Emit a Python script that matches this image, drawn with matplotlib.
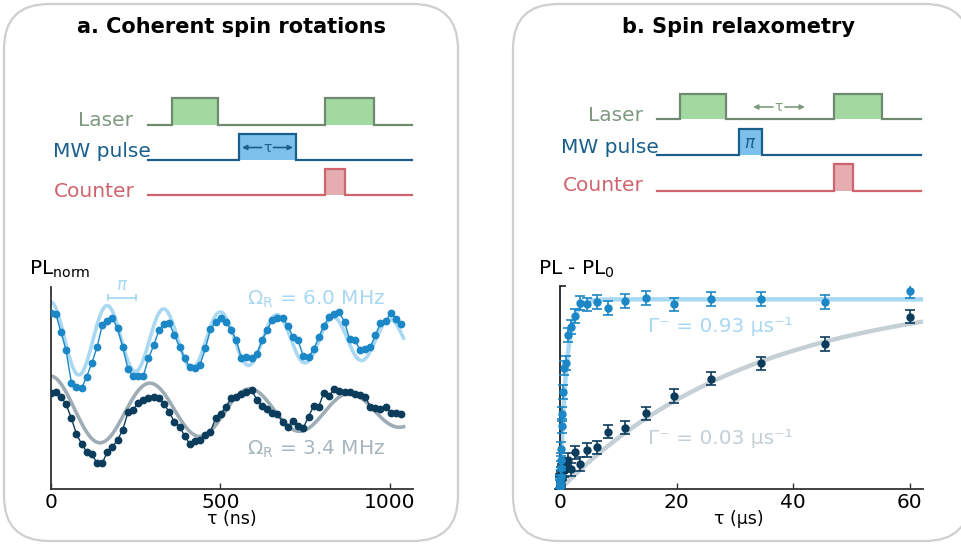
import numpy as np
import matplotlib

matplotlib.use("Agg")
import matplotlib.pyplot as plt  # noqa: E402
from matplotlib.patches import FancyBboxPatch  # noqa: E402

# --- a. Rabi oscillations: PL vs MW pulse length (ns) ---
rabi_tau = [0, 15, 30, 45, 61, 76, 91, 106, 121, 137, 152, 167, 182, 197, 212,
            228, 243, 258, 273, 288, 304, 319, 334, 349, 364, 380, 395, 410, 425,
            440, 456, 471, 486, 501, 516, 532, 547, 562, 577, 592, 608, 623, 638,
            653, 668, 684, 699, 714, 729, 744, 760, 775, 790, 805, 820, 836, 851,
            866, 881, 896, 912, 927, 942, 957, 972, 988, 1003, 1018, 1033]
rabi_fast = [86.8, 86.5, 77.8, 68.8, 52.6, 50.3, 49.8, 55.6, 62.2, 70.4,
             81.1, 83.2, 84.4, 79.4, 70.4, 59.2, 55.9, 55.9, 55.9, 64.6,
             71.2, 78.6, 81.6, 82.2, 76.2, 70.4, 64.6, 60.2, 59.7, 61.3,
             69.6, 78.9, 82.7, 84.7, 82.7, 78.6, 73.7, 64.6, 65.1, 64.6,
             66.8, 73.7, 78.6, 83.6, 84.4, 84.7, 80.6, 75.3, 73.7, 65.8,
             65.1, 69.1, 75.0, 80.6, 84.9, 86.5, 87.3, 82.7, 74.0, 73.7,
             68.8, 69.1, 70.1, 76.2, 81.9, 83.1, 87.2, 83.9, 81.6]
rabi_slow = [47.4, 48.2, 45.7, 42.1, 35.0, 27.3, 22.4, 18.6, 17.4, 12.8,
             12.8, 18.6, 21.1, 24.3, 29.3, 38.0, 39.1, 42.8, 44.1, 44.9,
             45.7, 44.9, 42.1, 38.3, 33.4, 30.9, 26.3, 22.4, 24.0, 24.3,
             26.6, 28.5, 35.0, 37.2, 40.8, 44.9, 45.7, 47.0, 48.2, 49.0,
             44.1, 41.3, 39.5, 37.5, 37.0, 33.4, 30.9, 33.9, 31.4, 30.1,
             35.9, 41.1, 40.8, 47.7, 46.2, 49.3, 48.7, 48.2, 47.9, 47.0,
             46.5, 45.7, 40.8, 40.1, 39.5, 40.5, 37.8, 37.5, 37.2]
omega_fast, omega_slow = 6.0, 3.4           # MHz
fit_fast = dict(offset=74.0, amp=18.5, t_decay=1600.0)
fit_slow = dict(offset=38.5, amp=17.4, t_decay=1300.0)

# --- b. T1 relaxometry: PL - PL0 vs dark time (us) ---
relax_tau = [0.042, 0.056, 0.075, 0.10, 0.13, 0.18, 0.24, 0.32, 0.42, 0.56,
             0.75, 1.0, 1.4, 1.9, 2.6, 3.4, 4.7, 6.3, 8.3, 11.1, 14.7, 19.5,
             25.9, 34.5, 45.4, 60.0]
relax_fast = [1.0, 2.1, 3.8, 6.2, 10.3, 14.4, 19.6, 31.1, 36.8, 47.9,
              59.4, 61.9, 75.8, 79.9, 85.3, 91.3, 90.8, 91.8, 89.2, 92.5,
              94.1, 90.8, 93.3, 93.3, 91.8, 97.4]
relax_slow = [2.5, 4.0, 3.0, 5.5, 4.5, 7.5, 6.0, 9.0, 7.9, 11.1,
              9.5, 11.9, 14.4, 9.8, 18.2, 12.4, 19.3, 20.6, 28.3, 30.3,
              37.3, 45.8, 54.3, 61.9, 71.3, 84.8]
relax_fast_err = [3.4] * len(relax_tau)
relax_slow_err = [3.3] * len(relax_tau)
gamma_fast, gamma_slow = 0.93, 0.03         # 1/us
amp_fast, amp_slow = 93.3, 97.4

C_LIGHT = "#a9d8f2"
C_BLUE = "#1b87c6"
C_DARK = "#0c3c5c"
C_GREY = "#9eacb6"
C_GREY_LT = "#c4cfd6"
C_LASER, C_LASER_FILL = "#6f8a70", "#a2d9a0"
C_MW, C_MW_FILL = "#1a5f8c", "#7cc0ec"
C_CNT, C_CNT_FILL = "#d0646e", "#e6adb1"
C_SPINE = "#333333"

W, H = 962, 546
fig = plt.figure(figsize=(W / 100, H / 100), dpi=100)

# background canvas in pixel units for panel frames and pulse sequences
bg = fig.add_axes([0, 0, 1, 1], zorder=0)
bg.set_xlim(0, W)
bg.set_ylim(H, 0)
bg.axis("off")

for x0, x1 in [(4, 458), (513, 970)]:
    bg.add_patch(FancyBboxPatch((x0, 4), x1 - x0, 537,
                                boxstyle="round,pad=0,rounding_size=45",
                                fc="white", ec="#cfcfcf", lw=1.6))

bg.text(231.5, 27, "a. Coherent spin rotations", ha="center", va="center",
        fontsize=15, fontweight="bold")
bg.text(739, 27, "b. Spin relaxometry", ha="center", va="center",
        fontsize=15, fontweight="bold")


def pulse_row(x0, x1, base, top, pulses, ec, fc):
    xs, ys = [x0], [base]
    for a, b in pulses:
        xs += [a, a, b, b]
        ys += [base, top, top, base]
        bg.fill_between([a, b], base, top, color=fc, lw=0, zorder=1)
    xs.append(x1)
    ys.append(base)
    bg.plot(xs, ys, color=ec, lw=1.6, zorder=2, solid_joinstyle="miter")


def seq_label(x, y, txt, color):
    bg.text(x, y, txt, ha="right", va="baseline", fontsize=14.5, color=color)


def tau_arrows(xl, xr, y, color):
    xc = (xl + xr) / 2
    bg.annotate("", xy=(xl, y), xytext=(xc - 6, y),
                arrowprops=dict(arrowstyle="-|>", color=color, lw=1.2,
                                mutation_scale=7, shrinkA=0, shrinkB=0))
    bg.annotate("", xy=(xr, y), xytext=(xc + 6, y),
                arrowprops=dict(arrowstyle="-|>", color=color, lw=1.2,
                                mutation_scale=7, shrinkA=0, shrinkB=0))
    bg.text(xc, y, "τ", ha="center", va="center", fontsize=10, color=color)


# panel a sequence
pulse_row(148, 412, 125, 98.3, [(171.7, 217.7), (325.3, 373.7)], C_LASER, C_LASER_FILL)
pulse_row(148, 412, 160, 134, [(239, 295.7)], C_MW, C_MW_FILL)
pulse_row(148, 412, 195, 169.3, [(325.3, 344.7)], C_CNT, C_CNT_FILL)
seq_label(133, 125.7, "Laser", "#7f9a80")
seq_label(150.7, 157.3, "MW pulse", C_MW)
seq_label(135, 196.7, "Counter", C_CNT)
tau_arrows(242, 293, 147.5, C_MW)

# panel b sequence
pulse_row(656.7, 920.7, 119, 94, [(680, 726), (834, 882.3)], C_LASER, C_LASER_FILL)
pulse_row(656.7, 920.7, 155, 128.7, [(738.7, 762.3)], C_MW, C_MW_FILL)
pulse_row(656.7, 920.7, 190.7, 164.3, [(834, 853.3)], C_CNT, C_CNT_FILL)
seq_label(642.7, 120.7, "Laser", "#7f9a80")
seq_label(659.3, 152.7, "MW pulse", C_MW)
seq_label(644, 191, "Counter", C_CNT)
tau_arrows(753, 805, 107, "#7f9a80")
bg.text(750.5, 143, r"$\pi$", ha="center", va="center", fontsize=12, color=C_MW)


def style_axes(ax):
    for s in ("top", "right"):
        ax.spines[s].set_visible(False)
    for s in ("left", "bottom"):
        ax.spines[s].set_color(C_SPINE)
        ax.spines[s].set_linewidth(1.3)
    ax.patch.set_alpha(0)
    ax.tick_params(axis="x", direction="in", length=4, width=1, color=C_SPINE,
                   labelsize=14.5, pad=2.5)


# --- panel a plot ---
ax1 = fig.add_axes([50.7 / W, 1 - 489.3 / H, 362 / W, 202.6 / H], zorder=2)
style_axes(ax1)
t = np.linspace(0, 1040, 800)
for fp, om, col in [(fit_fast, omega_fast, C_LIGHT), (fit_slow, omega_slow, C_GREY)]:
    ax1.plot(t, fp["offset"] + fp["amp"] * np.exp(-t / fp["t_decay"])
             * np.cos(2 * np.pi * om * 1e-3 * t), color=col, lw=2.6, zorder=1)
ax1.plot(rabi_tau, rabi_fast, "-o", color=C_BLUE, lw=1.0, ms=4.6, zorder=3)
ax1.plot(rabi_tau, rabi_slow, "-o", color=C_DARK, lw=1.0, ms=4.6, zorder=3)
ax1.set_xlim(0, 1067)
ax1.set_ylim(0, 100)
ax1.set_xticks([0, 500, 1000])
ax1.set_yticks([])
ax1.set_xlabel("τ (ns)", fontsize=12.5, labelpad=-1)

# pi-pulse marker: half a Rabi period
half = 1e3 / omega_fast / 2
x_pi = 168
ax1.plot([x_pi, x_pi + half], [94.6, 94.6], color=C_LIGHT, lw=1.3)
for xe in (x_pi, x_pi + half):
    ax1.plot([xe, xe], [93.2, 96.0], color=C_LIGHT, lw=1.3)
ax1.text(x_pi + half / 2, 96.4, r"$\pi$", ha="center", va="bottom", fontsize=12,
         color=C_LIGHT)
ax1.text(987, 91, r"$\Omega_\mathrm{R}$ = %.1f MHz" % omega_fast, ha="right",
         va="baseline", fontsize=14.5, color=C_LIGHT)
ax1.text(987, 16.9, r"$\Omega_\mathrm{R}$ = %.1f MHz" % omega_slow, ha="right",
         va="baseline", fontsize=14.5, color="#a8b6bf")
fig.text(29.3 / W, 1 - 275 / H, r"PL$_\mathrm{norm}$", fontsize=14.5, va="baseline")

# --- panel b plot ---
ax2 = fig.add_axes([555 / W, 1 - 489.3 / H, 367.7 / W, 203.6 / H], zorder=2)
style_axes(ax2)
ax2.spines["left"].set_position(("data", 0))
ax2.spines["left"].set_color("#222222")
tt = np.linspace(0, 62.5, 1200)
ax2.plot(tt, amp_fast * (1 - np.exp(-gamma_fast * tt)), color=C_LIGHT, lw=3.2, zorder=1)
ax2.plot(tt, amp_slow * (1 - np.exp(-gamma_slow * tt)), color=C_GREY_LT, lw=3.2, zorder=1)
ax2.errorbar(relax_tau, relax_slow, yerr=relax_slow_err, fmt="o", color=C_DARK,
             ms=5, elinewidth=1.2, capsize=3.6, capthick=1.2, zorder=3)
ax2.errorbar(relax_tau, relax_fast, yerr=relax_fast_err, fmt="o", color=C_BLUE,
             ms=5, elinewidth=1.2, capsize=3.6, capthick=1.2, zorder=4)
ax2.set_xlim(-0.86, 62.2)
ax2.set_ylim(0, 100)
ax2.set_xticks([0, 20, 40, 60])
ax2.set_yticks([100])
ax2.set_yticklabels([])
ax2.tick_params(axis="y", direction="in", length=4, width=1.2, color="#222222")
ax2.set_xlabel("τ (μs)", fontsize=12.5, labelpad=-1)
ax2.text(15.1, 77.1, "Γ⁻ = %.2f μs⁻¹" % gamma_fast, ha="left", va="baseline",
         fontsize=14.5, color=C_LIGHT)
ax2.text(15.1, 22.1, "Γ⁻ = %.2f μs⁻¹" % gamma_slow, ha="left", va="baseline",
         fontsize=14.5, color=C_GREY_LT)
fig.text(538.3 / W, 1 - 275 / H, r"PL - PL$_0$", fontsize=14.5, va="baseline")

fig.savefig("out.png", dpi=100)
